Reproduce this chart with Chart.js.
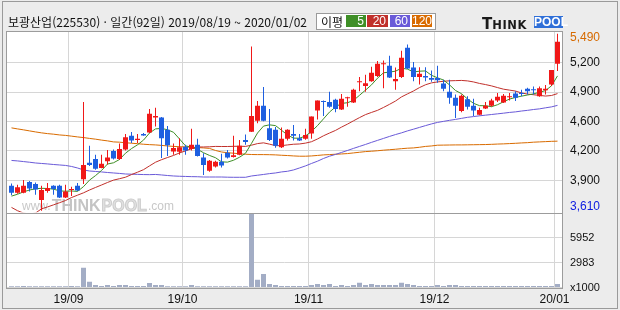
<!DOCTYPE html>
<html lang="ko">
<head>
<meta charset="utf-8">
<script src="https://cdn.jsdelivr.net/npm/chart.js@4"></script>
<style>
    html, body { margin: 0; padding: 0; background: #ececec; }
    #wrap { position: relative; width: 620px; height: 310px; overflow: hidden; }
    #frame { position: absolute; left: 2px; top: 1px; width: 614px; height: 306px; border: 1px solid #9a9a9a; }
    #chart { position: absolute; left: 0; top: 0; }
    #title { position: absolute; left: 8px; top: 15px; font: 12px/14px "Noto Sans CJK KR"; color: #111; white-space: nowrap; }
    #legend { position: absolute; left: 316px; top: 13px; width: 118px; height: 15px; border: 1px solid #9a9a9a; background: #fff; }
    #legend .lbl { position: absolute; left: 4px; top: 0; font: 12px/15px "Noto Sans CJK KR"; color: #111; }
    #legend .ma { position: absolute; top: 1px; height: 12px; font: 12px/12px "Liberation Sans"; color: #fff; text-align: right; box-sizing: border-box; padding-right: 2px; }
    #logo { position: absolute; left: 482px; top: 14px; height: 15px; white-space: nowrap; font-family: "DejaVu Sans"; font-weight: bold; color: #1a1a1a; }
    #logo .t { font-size: 15px; }
    #logo .hink { font-size: 11.5px; letter-spacing: 0.6px; }
    #logo .pool { position: absolute; left: 52px; top: 2px; width: 29px; height: 12px; background: #2f6fd8; color: #fff; font: bold 12px/12px "Liberation Sans"; text-align: center; }
</style>
</head>
<body>
<div id="wrap">
    <div id="frame"></div>
    <canvas id="chart" width="620" height="310"></canvas>
    <div id="title">보광산업(225530) · 일간(92일) 2019/08/19 ~ 2020/01/02</div>
    <div id="legend">
        <span class="lbl">이평</span>
        <span class="ma" style="left:29px;width:20px;background:#3f8f27">5</span>
        <span class="ma" style="left:50px;width:21px;background:#c0302b">20</span>
        <span class="ma" style="left:73px;width:20px;background:#6a5ad8">60</span>
        <span class="ma" style="left:95px;width:20px;background:#d96b00">120</span>
    </div>
    <div id="logo"><span class="t">T</span><span class="hink">HINK</span><span class="pool">POOL</span></div>
</div>
<script>
// daily candles 2019/08/19 ~ 2020/01/02 (92 trading days)
var opens = [3875,3800,3800,3915,3895,3725,3820,3875,3875,3750, 3830,3875,3945,4120,4160,4065,4135,4245,4160,4260,
    4405,4360,4425,4440,4600,4600,4470,4240,4235,4290, 4265,4310,4175,4035,4080,4130,4225,4180,4205,4360,
    4450,4565,4725,4485,4470,4285,4375,4425,4380,4375, 4430,4675,4775,4765,4790,4685,4805,4760,4975,4935,
    4985,5040,5165,5150,4985,5030,5340,5130,5030,5040, 5020,5020,4960,4875,4810,4670,4795,4725,4630,4695,
    4725,4780,4760,4815,4855,4860,4905,4900,4825,4890, 4950,5170];
var highs = [3900,3885,3935,3925,3910,3875,3905,3880,3885,3885, 3865,3905,4765,4300,4205,4205,4255,4260,4325,4425,
    4445,4425,4435,4690,4705,4605,4510,4325,4380,4310, 4480,4375,4220,4150,4140,4215,4255,4405,4360,4420,
    5355,4775,4925,4690,4500,4495,4475,4520,4425,4480, 4610,4780,4780,4875,4800,4850,4820,4905,5030,5055,
    5140,5200,5205,5255,5130,5310,5375,5190,5135,5135, 5100,5150,5000,5000,4845,4845,4825,4800,4705,4765,
    4800,4860,4850,4860,4880,4895,4915,4930,4930,4945, 5105,5490];
var lows = [3775,3790,3795,3815,3780,3610,3800,3780,3745,3745, 3765,3820,3895,4085,4045,4060,4100,4155,4150,4250,
    4330,4330,4405,4435,4505,4170,4190,4205,4205,4205, 4250,4185,3990,4025,4070,4070,4165,4175,4200,4310,
    4445,4540,4560,4350,4280,4275,4355,4355,4350,4365, 4375,4580,4615,4705,4655,4680,4715,4755,4880,4875,
    4980,5030,4910,5020,4895,5020,5115,4985,4950,4985, 4980,4970,4880,4745,4595,4655,4685,4615,4625,4690,
    4715,4765,4755,4780,4775,4825,4845,4845,4820,4845, 4935,5095];
var closes = [3800,3860,3875,3845,3835,3830,3850,3840,3750,3815, 3840,3825,4095,4095,4055,4110,4175,4165,4265,4390,
    4355,4375,4410,4640,4615,4380,4305,4275,4285,4250, 4310,4190,4095,4140,4130,4090,4175,4200,4300,4340,
    4615,4725,4565,4360,4300,4375,4470,4405,4355,4415, 4610,4780,4765,4715,4690,4800,4815,4895,4985,4965,
    5075,5170,5175,5025,5010,5235,5120,5030,5065,5025, 5000,4995,4905,4810,4725,4830,4715,4675,4680,4725,
    4780,4820,4830,4825,4810,4850,4880,4890,4910,4905, 5105,5405];

// volume, x1000 shares
var volumes = [160,150,170,150,160,150,140,150,160,150, 170,160,2350,680,300,180,300,180,300,300,
    170,170,170,540,300,300,160,160,150,160, 300,160,150,150,150,160,150,150,150,150,
    8770,930,1610,420,300,170,170,170,170,170, 300,420,300,420,180,300,180,300,560,300,
    420,300,300,300,300,560,420,300,180,180, 180,300,180,300,300,180,180,180,180,180,
    180,180,180,180,180,180,180,180,180,180, 180,420];

// moving averages as drawn (5, 20, 60, 120 days)
var ma5 = [3765,3785,3810,3830,3843,3848,3846,3839,3821,3817, 3820,3815,3866,3935,3983,4037,4106,4119,4154,4221,
    4270,4310,4360,4435,4479,4484,4470,4443,4372,4299, 4285,4262,4226,4197,4173,4129,4126,4146,4178,4220,
    4325,4435,4509,4522,4514,4465,4414,4381,4380,4404, 4452,4514,4586,4658,4712,4750,4757,4782,4836,4891,
    4947,5018,5075,5083,5092,5124,5114,5084,5092,5095, 5048,5022,4998,4947,4887,4853,4797,4751,4726,4725,
    4715,4736,4767,4796,4813,4827,4839,4851,4868,4886, 4937,5042];
var ma20 = [3645,3610,3585,3575,3585,3630,3650,3672,3695,3718, 3750,3775,3800,3830,3857,3883,3910,3935,3950,3966,
    3994,4019,4046,4086,4125,4152,4175,4197,4224,4245, 4269,4287,4287,4289,4293,4292,4292,4294,4295,4293,
    4306,4323,4331,4317,4301,4301,4309,4316,4319,4328, 4343,4372,4406,4435,4463,4498,4530,4565,4599,4631,
    4654,4676,4707,4740,4775,4819,4851,4882,4918,4948, 4968,4978,4985,4990,4992,4994,4989,4978,4962,4950,
    4936,4918,4901,4891,4881,4861,4849,4842,4835,4828, 4834,4854];
var ma60 = [4144,4139,4132,4125,4117,4112,4107,4101,4096,4091, 4080,4064,4043,4032,4027,4022,4016,4011,4006,4000,
    3998,3996,3994,3993,3995,3990,3984,3979,3976,3974, 3972,3971,3968,3968,3968,3968,3966,3965,3965,3965,
    3979,3987,3995,4004,4011,4022,4029,4043,4064,4086, 4112,4136,4165,4189,4208,4229,4250,4272,4293,4314,
    4336,4357,4378,4399,4419,4437,4458,4476,4495,4514, 4532,4548,4559,4570,4580,4591,4602,4610,4618,4625,
    4632,4639,4646,4654,4660,4669,4676,4685,4692,4703, 4713,4729];
var ma120 = [4490,4479,4469,4458,4447,4437,4429,4423,4415,4410, 4402,4394,4387,4378,4370,4360,4352,4341,4338,4332,
    4327,4322,4316,4312,4309,4304,4298,4293,4290,4288, 4284,4281,4277,4272,4250,4234,4226,4221,4215,4210,
    4207,4206,4206,4205,4203,4199,4196,4192,4189,4189, 4192,4197,4203,4206,4210,4213,4217,4224,4231,4238,
    4242,4247,4253,4258,4263,4269,4274,4277,4284,4293, 4298,4306,4307,4308,4309,4309,4310,4311,4312,4313,
    4315,4318,4320,4323,4326,4330,4333,4338,4341,4344, 4347,4349];

// axis ticks: month starts sit between trading days
var monthTicks = [9.5, 28.5, 49.5, 70.5, 90.5];
var monthLabels = ['19/09', '19/10', '19/11', '19/12', '20/01'];
var priceTicks = [3934, 4246, 4558, 4870, 5182];
var priceLabels = ['3,900', '4,200', '4,600', '4,900', '5,200'];
var volTicks = [0, 2983, 5952];
var volLabels = ['x1000', '2983', '5952'];
var periodHigh = 5490;
var periodLow = 3610;

var UP = '#f01818', DOWN = '#1e5fe0';
var LABEL_FONT = '"Liberation Sans", Arial, sans-serif';

function pts(arr) {
    return arr.map(function (v, i) { return { x: i, y: v }; });
}
function candleColors() {
    return opens.map(function (o, i) { return closes[i] >= o ? UP : DOWN; });
}

var panels = {
    id: 'panels',
    beforeDraw: function (chart) {
        var ctx = chart.ctx, a = chart.chartArea;
        ctx.save();
        ctx.fillStyle = '#ffffff';
        ctx.fillRect(a.left, a.top, a.right - a.left, a.bottom - a.top);
        ctx.restore();
    },
    beforeDatasetsDraw: function (chart) {
        // faint site watermark in the lower left of the price pane
        var ctx = chart.ctx, a = chart.chartArea, y = chart.scales.y;
        var x = a.left + 15, base = y.bottom - 3;
        ctx.save();
        ctx.font = '12px ' + LABEL_FONT;
        ctx.fillStyle = '#c8c8c8';
        ctx.fillText('www.', x, base);
        x += ctx.measureText('www.').width + 1;
        ctx.font = 'bold 16px ' + LABEL_FONT;
        ctx.fillStyle = '#c4c4c4';
        ctx.fillText('THINK', x, base + 1);
        x += ctx.measureText('THINK').width + 1;
        ctx.fillStyle = '#e2e2e2';
        ctx.strokeStyle = '#cdcdcd';
        ctx.lineWidth = 1;
        ctx.fillText('POOL', x, base + 1);
        ctx.strokeText('POOL', x, base + 1);
        x += ctx.measureText('POOL').width + 1;
        ctx.font = '12px ' + LABEL_FONT;
        ctx.fillStyle = '#c8c8c8';
        ctx.fillText('.com', x, base);
        ctx.restore();
    },
    beforeDatasetDraw: function (chart, args) {
        if (chart.data.datasets[args.index].yAxisID !== 'y') return;
        var ctx = chart.ctx, a = chart.chartArea, y = chart.scales.y;
        ctx.save();
        ctx.beginPath();
        ctx.rect(a.left, y.top, a.right - a.left, y.bottom - y.top);
        ctx.clip();
    },
    afterDatasetDraw: function (chart, args) {
        if (chart.data.datasets[args.index].yAxisID !== 'y') return;
        chart.ctx.restore();
    },
    afterDraw: function (chart) {
        var ctx = chart.ctx, a = chart.chartArea, y = chart.scales.y, v = chart.scales.v;
        ctx.save();
        ctx.strokeStyle = '#9c9c9c';
        ctx.lineWidth = 1;
        [y, v].forEach(function (s) {
            ctx.strokeRect(Math.round(a.left) - 0.5, Math.round(s.top) + 0.5,
                Math.round(a.right - a.left) + 1, Math.round(s.bottom - s.top));
        });
        // period high / low labels, kept inside the pane
        ctx.font = '12px ' + LABEL_FONT;
        ctx.textBaseline = 'middle';
        var hy = Math.max(y.getPixelForValue(periodHigh), y.top + 7);
        var ly = Math.min(y.getPixelForValue(periodLow), y.bottom - 6);
        ctx.fillStyle = '#d66a00';
        ctx.fillText('5,490', a.right + 8, hy);
        ctx.fillStyle = '#1020e0';
        ctx.fillText('3,610', a.right + 8, ly);
        ctx.restore();
    }
};

var colors = candleColors();

new Chart(document.getElementById('chart').getContext('2d'), {
    data: {
        datasets: [
            { type: 'bar', label: 'body', yAxisID: 'y', order: 0, grouped: false,
              data: opens.map(function (o, i) { return { x: i, y: [o, closes[i]] }; }),
              backgroundColor: colors, barThickness: 5, minBarLength: 1, inflateAmount: 0, borderWidth: 0 },
            { type: 'bar', label: 'wick', yAxisID: 'y', order: 1, grouped: false,
              data: lows.map(function (l, i) { return { x: i, y: [l, highs[i]] }; }),
              backgroundColor: colors, barThickness: 1, inflateAmount: 0, borderWidth: 0 },
            { type: 'line', label: 'MA5', yAxisID: 'y', order: 2, data: pts(ma5),
              borderColor: '#3f8f27', borderWidth: 1, pointRadius: 0, tension: 0 },
            { type: 'line', label: 'MA20', yAxisID: 'y', order: 2, data: pts(ma20),
              borderColor: '#c0302b', borderWidth: 1, pointRadius: 0, tension: 0 },
            { type: 'line', label: 'MA60', yAxisID: 'y', order: 2, data: pts(ma60),
              borderColor: '#6a5ad8', borderWidth: 1, pointRadius: 0, tension: 0 },
            { type: 'line', label: 'MA120', yAxisID: 'y', order: 2, data: pts(ma120),
              borderColor: '#d96b00', borderWidth: 1, pointRadius: 0, tension: 0 },
            { type: 'bar', label: 'volume', yAxisID: 'v', order: 0, grouped: false,
              data: pts(volumes), backgroundColor: '#a3adc5',
              barThickness: 5, inflateAmount: 0, borderWidth: 0 }
        ]
    },
    options: {
        responsive: false,
        animation: false,
        events: [],
        layout: { padding: { left: 7, top: 31, right: 0, bottom: 0 } },
        plugins: { legend: { display: false }, tooltip: { enabled: false } },
        scales: {
            x: {
                type: 'linear', min: -0.75, max: 91.75, offset: false,
                afterBuildTicks: function (s) { s.ticks = monthTicks.map(function (t) { return { value: t }; }); },
                afterFit: function (s) { s.height = 22.5; },
                ticks: {
                    autoSkip: false, maxRotation: 0, padding: 5, color: '#111',
                    font: { family: LABEL_FONT, size: 12 },
                    callback: function (val, i) { return monthLabels[i]; }
                },
                grid: { color: '#d6d6d6', drawTicks: false, offset: false },
                border: { display: false }
            },
            y: {
                type: 'linear', position: 'right', stack: 'panes', stackWeight: 181.5,
                min: 3591, max: 5519,
                afterBuildTicks: function (s) { s.ticks = priceTicks.map(function (t) { return { value: t }; }); },
                afterFit: function (s) { s.width = 58; },
                ticks: {
                    autoSkip: false, padding: 8, color: '#111',
                    font: { family: LABEL_FONT, size: 12 },
                    callback: function (val, i) { return priceLabels[i]; }
                },
                grid: { color: '#d6d6d6', drawTicks: false },
                border: { display: false }
            },
            v: {
                type: 'linear', position: 'right', stack: 'panes', stackWeight: 75,
                min: 0, max: 8950,
                afterBuildTicks: function (s) { s.ticks = volTicks.map(function (t) { return { value: t }; }); },
                afterFit: function (s) { s.width = 58; },
                ticks: {
                    autoSkip: false, padding: 8, color: '#111',
                    font: { family: LABEL_FONT, size: 11 },
                    callback: function (val, i) { return volLabels[i]; }
                },
                grid: { color: '#d6d6d6', drawTicks: false },
                border: { display: false }
            }
        }
    },
    plugins: [panels]
});
</script>
</body>
</html>
